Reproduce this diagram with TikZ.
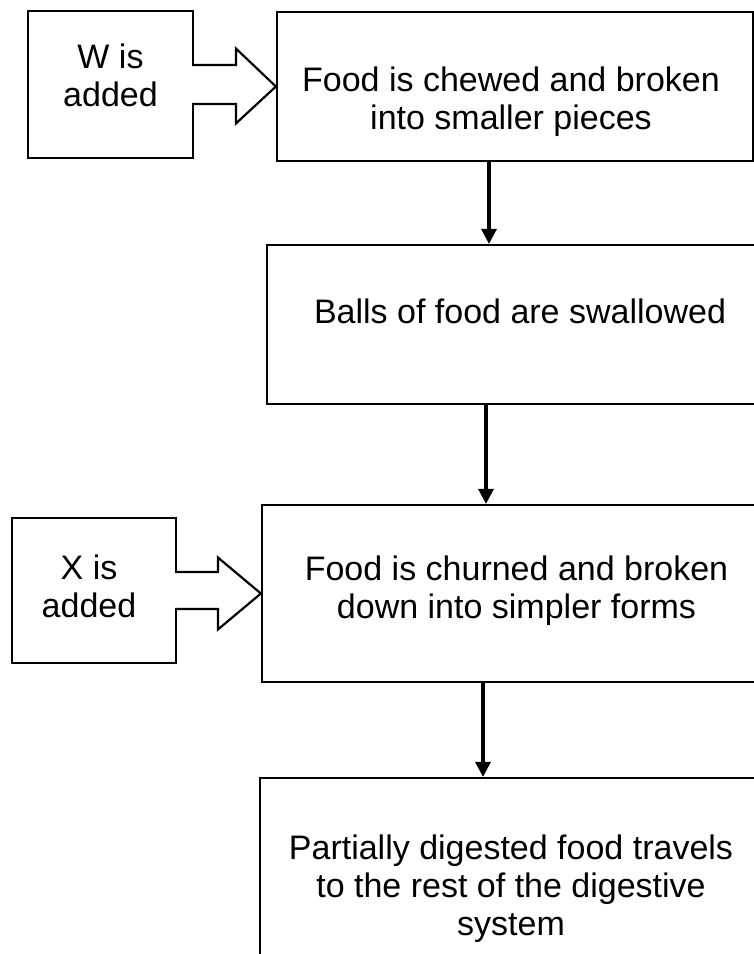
\documentclass[tikz,border=0pt]{standalone}
\usepackage{fontspec}
\setmainfont{Liberation Sans}
\usetikzlibrary{arrows.meta, calc}

\begin{document}
\begin{tikzpicture}[x=0.5pt, y=-0.5pt, >={Triangle[length=7.5pt, width=7.5pt]},
  box/.style={draw, line width=1.1pt, fill=white, inner sep=0pt},
  txt/.style={align=center, font=\fontsize{17}{19}\selectfont},
  fatarrow/.style={draw, line width=1.1pt, fill=white, line join=miter},
  flow/.style={->, line width=1.6pt}]
\clip (0,0) rectangle (754,954);
% what is added
\node[box, minimum width=82.5pt, minimum height=73.5pt, label={[txt, yshift=4.5pt]center:W is\\added}] (wbox) at (110.5,84.5) {};
\node[box, minimum width=82pt, minimum height=72.5pt, label={[txt, xshift=-2.5pt, yshift=2pt]center:X is\\added}] (xbox) at (94,590.5) {};
% main steps
\node[box, minimum width=238pt, minimum height=74.5pt, label={[txt, xshift=-2pt, yshift=-7.75pt]center:Food is chewed and broken\\into smaller pieces}] (chew) at (515,86.5) {};
\node[box, minimum width=253pt, minimum height=79.5pt, label={[txt, yshift=6.5pt]center:Balls of food are swallowed}] (swallow) at (520,324.5) {};
\node[box, minimum width=254.5pt, minimum height=88.5pt, label={[txt, yshift=1.5pt]center:Food is churned and broken\\down into simpler forms}] (churn) at (516.5,593.5) {};
\node[box, minimum width=251pt, minimum height=110.5pt, label={[txt]center:Partially digested food travels\\to the rest of the digestive\\system}] (travel) at (511,888.5) {};
% block arrows
\draw[fatarrow] ($(wbox.east)+(-2,-19.5)$) -| ($(chew.west)+(-40,-38)$) -- (chew.west) -- ($(chew.west)+(-40,37)$) |- ($(wbox.east)+(-2,19.5)$);
\draw[fatarrow] ($(xbox.east)+(-2,-18.5)$) -| ($(churn.west)+(-43,-36)$) -- (churn.west) -- ($(churn.west)+(-43,36)$) |- ($(xbox.east)+(-2,18.5)$);
% flow arrows
\draw[flow] ([xshift=-13pt]chew.south) -- ([xshift=-13pt]chew.south |- swallow.north);
\draw[flow] ([xshift=-17pt]swallow.south) -- ([xshift=-17pt]swallow.south |- churn.north);
\draw[flow] ([xshift=-16.75pt]churn.south) -- ([xshift=-16.75pt]churn.south |- travel.north);
\end{tikzpicture}
\end{document}
